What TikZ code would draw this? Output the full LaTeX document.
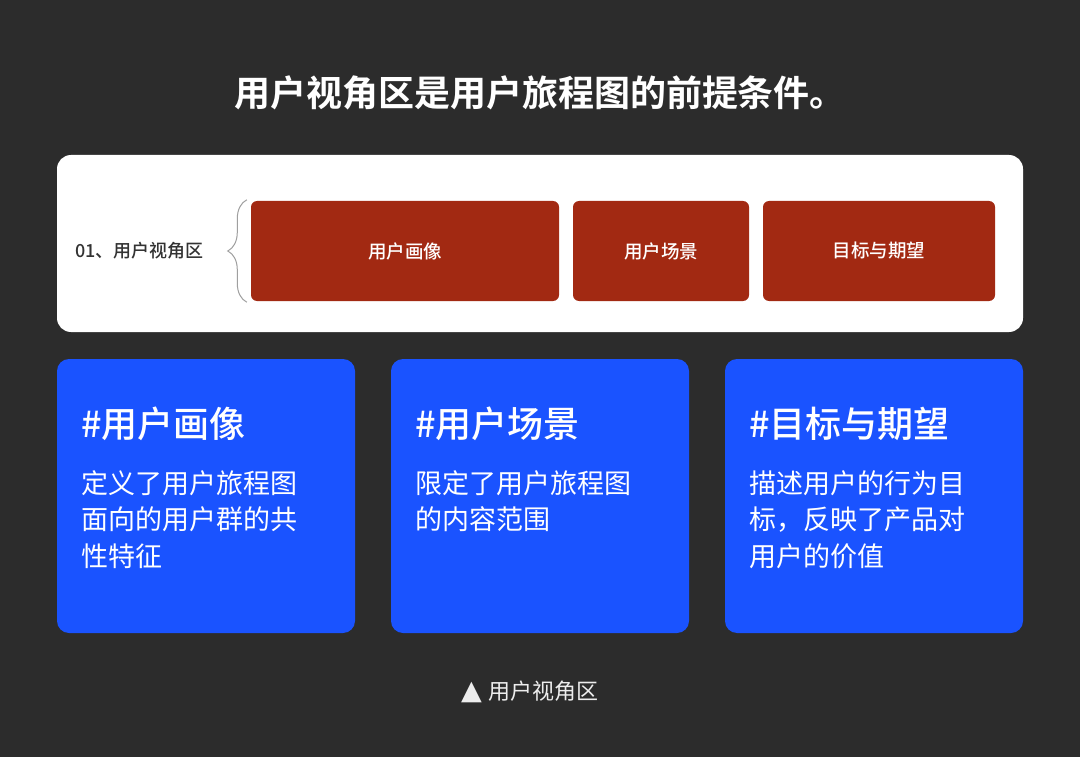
\documentclass[tikz,border=0pt]{standalone}
\usepackage{fontspec}
\setmainfont{Noto Sans CJK SC}[BoldFont={Noto Sans CJK SC Bold}]
\newfontfamily\medfont{Noto Sans CJK SC Medium}
\newfontfamily\symfont{DejaVu Sans}
\usetikzlibrary{
	calc,
	positioning,
	decorations.pathreplacing,
}
\definecolor{bgdark}{HTML}{2C2C2C}
\definecolor{boxred}{HTML}{A22912}
\definecolor{cardblue}{HTML}{1A53FF}
\definecolor{labelgrey}{HTML}{333333}
\tikzset{panel/.style={
	fill=white,
	rounded corners=14pt,
}}
\tikzset{part box/.style={
	fill=boxred,
	rounded corners=6pt,
	inner sep=0pt,
	minimum height=100pt,
	text=white,
	font=\medfont\fontsize{18.5}{18.5}\selectfont,
}}
\tikzset{card/.style={
	fill=cardblue,
	rounded corners=12pt,
	inner sep=0pt,
	minimum width=298pt,
	minimum height=274pt,
}}
\tikzset{card title/.style={
	anchor=west,
	inner sep=0pt,
	text=white,
	font=\medfont\fontsize{36}{36}\selectfont,
}}
\tikzset{card line/.style={
	anchor=west,
	inner sep=0pt,
	text=white,
	font=\fontsize{27}{27}\selectfont,
}}

\begin{document}
\begin{tikzpicture}[x=1pt, y=-1pt]

\fill[bgdark] (0,0) rectangle (1080,757);
\useasboundingbox (0,0) rectangle (1080,757);

\node[text=white, font=\bfseries\fontsize{36}{36}\selectfont](title) at (540,93) {用户视角区是用户旅程图的前提条件。};

% user view panel
\path[panel] (57,155) rectangle (1023,332);
\node[anchor=west, inner sep=0pt, text=labelgrey, font=\medfont\fontsize{18}{18}\selectfont](zone) at (75,251) {01、用户视角区};

\node[part box, minimum width=308pt](persona)	at (405,251) {用户画像};
\node[part box, minimum width=176pt](scene)		at (661,251) {用户场景};
\node[part box, minimum width=232pt](goal)		at (879,251) {目标与期望};

% brace
\draw[gray!75, line width=1pt, decorate, decoration={brace, amplitude=19pt, aspect=0.5}]
	($(persona.south west)+(-4,1)$) -- ($(persona.north west)+(-4,-1)$);

% cards
\node[card](c1) at (206,496) {};
\node[card](c2) at (540,496) {};
\node[card](c3) at (874,496) {};

\node[card title](t1) at (81,424) {\#用户画像};
\node[card title](t2) at (415,424) {\#用户场景};
\node[card title](t3) at (749,424) {\#目标与期望};

\foreach \txt [count=\i] in {定义了用户旅程图, 面向的用户群的共, 性特征}
	\node[card line](a\i) at (81,{483+36.5*(\i-1)}) {\txt};
\foreach \txt [count=\i] in {限定了用户旅程图, 的内容范围}
	\node[card line](b\i) at (415,{483+36.5*(\i-1)}) {\txt};
\foreach \txt [count=\i] in {描述用户的行为目, {标，反映了产品对}, 用户的价值}
	\node[card line](d\i) at (749,{483+36.5*(\i-1)}) {\txt};

% caption
\node[text=white!93!black, font=\fontsize{22}{22}\selectfont](caption) at (530,692) {{\symfont\fontsize{27}{27}\selectfont ▲}\hspace{7pt}用户视角区};

\end{tikzpicture}
\end{document}
